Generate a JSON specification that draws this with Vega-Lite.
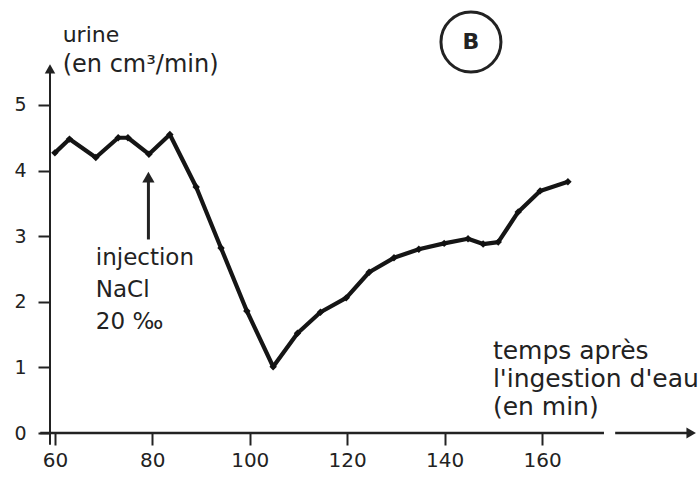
{
  "$schema": "https://vega.github.io/schema/vega-lite/v6.json",
  "autosize": {"type": "none"},
  "width": 648,
  "height": 433,
  "padding": {"left": 50, "top": 0, "right": 1, "bottom": 46},
  "background": "white",
  "data": {"values": [{}]},
  "config": {
    "view": {"stroke": null},
    "font": "DejaVu Sans",
    "axis": {"grid": false, "domain": false, "tickColor": "#222", "tickWidth": 2, "tickSize": 12, "labelColor": "#222", "labelFont": "DejaVu Sans", "labelFontSize": 19, "title": null, "format": "d"}
  },
  "datasets": {
    "urine": [
      {"t": 60, "v": 4.27},
      {"t": 63, "v": 4.48},
      {"t": 68.4, "v": 4.2},
      {"t": 73, "v": 4.5},
      {"t": 75, "v": 4.5},
      {"t": 79.3, "v": 4.25},
      {"t": 83.6, "v": 4.55},
      {"t": 89, "v": 3.75},
      {"t": 94.1, "v": 2.82},
      {"t": 99.4, "v": 1.86},
      {"t": 104.8, "v": 1.01},
      {"t": 109.8, "v": 1.52},
      {"t": 114.5, "v": 1.84},
      {"t": 119.8, "v": 2.06},
      {"t": 124.5, "v": 2.45},
      {"t": 129.6, "v": 2.67},
      {"t": 134.7, "v": 2.8},
      {"t": 139.9, "v": 2.89},
      {"t": 144.8, "v": 2.96},
      {"t": 147.9, "v": 2.88},
      {"t": 151, "v": 2.91},
      {"t": 155.1, "v": 3.37},
      {"t": 159.6, "v": 3.69},
      {"t": 165.3, "v": 3.83}
    ]
  },
  "layer": [
    {
      "mark": {"type": "rule", "color": "#222", "strokeWidth": 2},
      "encoding": {
        "x": {"datum": 59, "type": "quantitative", "scale": {"domain": [59, 192], "nice": false, "zero": false}, "axis": {"values": [60, 80, 100, 120, 140, 160], "orient": "bottom", "labelPadding": 5, "labelFontSize": 20}},
        "y": {"datum": -0.18, "type": "quantitative", "scale": {"domain": [0, 6.6], "nice": false}, "axis": {"values": [0, 1, 2, 3, 4, 5], "orient": "left", "labelPadding": 12, "labelFontSize": 19}},
        "y2": {"datum": 5.5}
      }
    },
    {
      "mark": {"type": "rule", "color": "#222", "strokeWidth": 2.5},
      "encoding": {"x": {"datum": 57}, "x2": {"datum": 172.7}, "y": {"datum": 0}}
    },
    {
      "mark": {"type": "rule", "color": "#222", "strokeWidth": 2.5},
      "encoding": {"x": {"datum": 175}, "x2": {"datum": 190}, "y": {"datum": 0}}
    },
    {
      "mark": {"type": "point", "shape": "triangle-right", "filled": true, "color": "#222", "size": 120, "opacity": 1},
      "encoding": {"x": {"datum": 190.6}, "y": {"datum": 0}}
    },
    {
      "mark": {"type": "point", "shape": "triangle-up", "filled": true, "color": "#222", "size": 110, "opacity": 1},
      "encoding": {"x": {"datum": 59}, "y": {"datum": 5.55}}
    },
    {
      "mark": {"type": "line", "color": "#151515", "strokeWidth": 4.2, "strokeJoin": "round", "point": {"filled": true, "size": 55, "shape": "diamond", "color": "#111"}},
      "data": {"name": "urine"},
      "encoding": {
        "x": {"field": "t", "type": "quantitative"},
        "y": {"field": "v", "type": "quantitative"}
      }
    },
    {
      "mark": {"type": "rule", "color": "#222", "strokeWidth": 3},
      "encoding": {"x": {"datum": 79.2}, "y": {"datum": 2.95}, "y2": {"datum": 3.9}}
    },
    {
      "mark": {"type": "point", "shape": "triangle-up", "filled": true, "color": "#222", "size": 150, "opacity": 1},
      "encoding": {"x": {"datum": 79.2}, "y": {"datum": 3.9}}
    },
    {
      "mark": {"type": "text", "text": "urine", "align": "left", "baseline": "middle", "fontSize": 22, "color": "#222"},
      "encoding": {"x": {"datum": 61.6}, "y": {"datum": 6.07}}
    },
    {
      "mark": {"type": "text", "text": "(en cm³/min)", "align": "left", "baseline": "middle", "fontSize": 24, "color": "#222"},
      "encoding": {"x": {"datum": 61.6}, "y": {"datum": 5.61}}
    },
    {
      "mark": {"type": "text", "text": ["injection", "NaCl", "20 ‰"], "align": "left", "baseline": "middle", "fontSize": 23, "lineHeight": 32, "color": "#222"},
      "encoding": {"x": {"datum": 68.4}, "y": {"datum": 2.67}}
    },
    {
      "mark": {"type": "text", "text": ["temps après", "l'ingestion d'eau", "(en min)"], "align": "left", "baseline": "middle", "fontSize": 25, "lineHeight": 28, "color": "#222"},
      "encoding": {"x": {"datum": 149.9}, "y": {"datum": 1.25}}
    },
    {
      "mark": {"type": "point", "shape": "circle", "filled": false, "color": "#222", "strokeWidth": 3, "size": 3600, "opacity": 1},
      "encoding": {"x": {"datum": 145.4}, "y": {"datum": 5.96}}
    },
    {
      "mark": {"type": "text", "text": "B", "align": "center", "baseline": "middle", "fontSize": 22, "fontWeight": "bold", "color": "#222"},
      "encoding": {"x": {"datum": 145.4}, "y": {"datum": 5.96}}
    }
  ]
}
